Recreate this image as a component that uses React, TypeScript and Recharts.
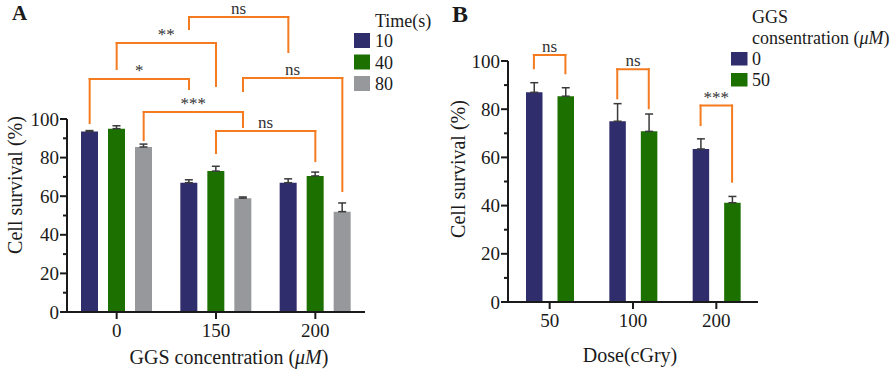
import React from 'react';
import { BarChart, Bar, XAxis, YAxis, ErrorBar, ReferenceLine } from 'recharts';

const FONT = '"Liberation Serif", "Times New Roman", serif';
const INK = '#1a1a1a';
const ORANGE = '#F47B20';
const NAVY = '#302D6D';
const GREEN = '#1B7000';
const GREY = '#97989C';

// panel A: survival vs GGS concentration, three exposure times
const concA = ['0', '150', '200'];
const surv10 = [93.5, 67, 67];
const surv40 = [95, 73, 70.5];
const surv80 = [85.5, 59, 52];
const err10 = [0.5, 1.5, 2];
const err40 = [1.5, 2.5, 2];
const err80 = [1.5, 0.6, 4.5];
const timeLabels = ['10', '40', '80'];

// panel B: survival vs dose, with / without GGS
const doseB = ['50', '100', '200'];
const survG0 = [87, 75, 63.5];
const survG50 = [85.4, 70.8, 41.2];
const errG0 = [4, 7.3, 4.2];
const errG50 = [3.5, 7.2, 2.6];
const ggsLabels = ['0', '50'];

const yTicks = [0, 10, 20, 30, 40, 50, 60, 70, 80, 90, 100];

// significance brackets: [group, series] anchors, bracket top and drop ends (in % units)
const bracketsA = [
  { from: [0, 0], to: [1, 0], top: 120.7, dropL: 97.9, dropR: 115.5, label: '*' },
  { from: [0, 1], to: [1, 1], top: 139.4, dropL: 125.9, dropR: 117.1, label: '**' },
  { from: [1, 0], to: [2, 0], top: 152.8, dropL: 146.6, dropR: 134.7, label: 'ns' },
  { from: [1, 2], to: [2, 2], top: 121.2, dropL: 114.5, dropR: 62.7, label: 'ns' },
  { from: [0, 2], to: [1, 2], top: 103.6, dropL: 89.1, dropR: 95.9, label: '***' },
  { from: [1, 1], to: [2, 1], top: 93.8, dropL: 82.4, dropR: 78.2, label: 'ns' },
];
const bracketsB = [
  { from: [0, 0], to: [0, 1], top: 102.5, dropL: 97, dropR: 94.9, label: 'ns' },
  { from: [1, 0], to: [1, 1], top: 96.6, dropL: 84.5, dropR: 80.4, label: 'ns' },
  { from: [2, 0], to: [2, 1], top: 81.5, dropL: 73.4, dropR: 49.9, label: '***' },
];

const dataA = concA.map((c, i) => ({
  conc: c,
  slot: i + 0.5,
  t10: surv10[i],
  t40: surv40[i],
  t80: surv80[i],
  e10: [0, err10[i]],
  e40: [0, err40[i]],
  e80: [0, err80[i]],
}));

const dataB = doseB.map((d, i) => ({
  dose: d,
  slot: i + 0.5,
  g0: survG0[i],
  g50: survG50[i],
  e0: [0, errG0[i]],
  e50: [0, errG50[i]],
}));

const YTick = (props: any) => {
  const { x, y, payload } = props;
  const v = payload.value;
  const major = v % 20 === 0;
  const len = major ? 7 : 4;
  return (
    <g>
      <line x1={x - len} x2={x} y1={y} y2={y} stroke={INK} strokeWidth={2} />
      {major && (
        <text x={x - len - 1} y={y} dy="0.35em" textAnchor="end" fill={INK} fontSize={19} fontFamily={FONT}>
          {v}
        </text>
      )}
    </g>
  );
};

// x position (in band units) of the centre of a bar
const barX = (group: number, series: number, nSeries: number, pitch: number) =>
  group + 0.5 + (series - (nSeries - 1) / 2) * pitch;

const renderBrackets = (list: typeof bracketsA, nSeries: number, pitch: number) =>
  list.flatMap((b, i) => {
    const xa = barX(b.from[0], b.from[1], nSeries, pitch);
    const xb = barX(b.to[0], b.to[1], nSeries, pitch);
    const common = {
      xAxisId: 'n',
      stroke: ORANGE,
      strokeWidth: 2,
      strokeLinecap: 'square' as const,
      ifOverflow: 'visible' as const,
    };
    return [
      <ReferenceLine
        key={`h${i}`}
        {...common}
        segment={[{ x: xa, y: b.top }, { x: xb, y: b.top }]}
        label={{ value: b.label, position: 'top', offset: 3, fill: '#333', fontSize: 17, fontFamily: FONT }}
      />,
      <ReferenceLine key={`l${i}`} {...common} segment={[{ x: xa, y: b.top }, { x: xa, y: b.dropL }]} />,
      <ReferenceLine key={`r${i}`} {...common} segment={[{ x: xb, y: b.top }, { x: xb, y: b.dropR }]} />,
    ];
  });

const axisStyle = { stroke: INK, strokeWidth: 2 };
const tickFont = { fill: INK, fontSize: 19, fontFamily: FONT };
const errStyle = { stroke: '#3a3a3a', strokeWidth: 1.5, width: 4 };

const Overlay = () => (
  <svg width={894} height={370} style={{ position: 'absolute', left: 0, top: 0, pointerEvents: 'none' }}>
    <g fontFamily={FONT} fill={INK}>
      <text x={12} y={20} fontSize={21} fontWeight="bold">A</text>
      <text x={452} y={22} fontSize={24} fontWeight="bold">B</text>

      <text x={15} y={185} fontSize={20} textAnchor="middle" dominantBaseline="central" transform="rotate(-90 15 185)">
        Cell survival (%)
      </text>
      <text x={229} y={357} fontSize={20} textAnchor="middle" dominantBaseline="central">
        GGS concentration (<tspan fontStyle="italic">μM</tspan>)
      </text>
      <text x={458} y={169} fontSize={20} textAnchor="middle" dominantBaseline="central" transform="rotate(-90 458 169)">
        Cell survival (%)
      </text>
      <text x={630} y={355} fontSize={20} textAnchor="middle" dominantBaseline="central">
        Dose(cGry)
      </text>

      {/* legend A */}
      <text x={375} y={21} fontSize={18} dominantBaseline="central">Time(s)</text>
      {timeLabels.map((t, i) => (
        <g key={t}>
          <rect x={354} y={33 + i * 21.5} width={16} height={15} fill={[NAVY, GREEN, GREY][i]} />
          <text x={375} y={41 + i * 21.5} fontSize={18} dominantBaseline="central">{t}</text>
        </g>
      ))}

      {/* legend B */}
      <text x={752} y={17} fontSize={18} dominantBaseline="central">GGS</text>
      <text x={752} y={38} fontSize={18} dominantBaseline="central">
        consentration (<tspan fontStyle="italic">μM</tspan>)
      </text>
      {ggsLabels.map((t, i) => (
        <g key={t}>
          <rect x={731} y={52 + i * 21} width={16.5} height={13.5} fill={[NAVY, GREEN][i]} />
          <text x={752} y={58.5 + i * 21} fontSize={18} dominantBaseline="central">{t}</text>
        </g>
      ))}
    </g>
  </svg>
);

export default function App() {
  return (
    <div style={{ position: 'absolute', left: 0, top: 0, width: 894, height: 370, background: '#fff' }}>
      <div style={{ position: 'absolute', left: 0, top: 0 }}>
        <BarChart
          width={440}
          height={370}
          data={dataA}
          margin={{ top: 119, right: 75, bottom: 28, left: 0 }}
          barSize={17}
          barGap={10}
        >
          <XAxis
            dataKey="conc"
            axisLine={axisStyle}
            tickLine={axisStyle}
            tickSize={7}
            tickMargin={5}
            tick={tickFont}
            height={30}
          />
          <XAxis xAxisId="n" dataKey="slot" type="number" domain={[0, 3]} allowDataOverflow hide />
          <YAxis
            domain={[0, 100]}
            ticks={yTicks}
            interval={0}
            tick={(p: any) => <YTick {...p} />}
            tickSize={0}
            tickMargin={0}
            tickLine={false}
            axisLine={axisStyle}
            width={67}
          />
          <Bar dataKey="t10" fill={NAVY} isAnimationActive={false}>
            <ErrorBar dataKey="e10" direction="y" {...errStyle} />
          </Bar>
          <Bar dataKey="t40" fill={GREEN} isAnimationActive={false}>
            <ErrorBar dataKey="e40" direction="y" {...errStyle} />
          </Bar>
          <Bar dataKey="t80" fill={GREY} isAnimationActive={false}>
            <ErrorBar dataKey="e80" direction="y" {...errStyle} />
          </Bar>
          {renderBrackets(bracketsA, 3, 27 / (298 / 3))}
        </BarChart>
      </div>
      <div style={{ position: 'absolute', left: 440, top: 0 }}>
        <BarChart
          width={454}
          height={370}
          data={dataB}
          margin={{ top: 61, right: 136, bottom: 38, left: 0 }}
          barSize={16.5}
          barGap={15}
        >
          <XAxis
            dataKey="dose"
            axisLine={axisStyle}
            tickLine={axisStyle}
            tickSize={7}
            tickMargin={5}
            tick={tickFont}
            height={30}
          />
          <XAxis xAxisId="n" dataKey="slot" type="number" domain={[0, 3]} allowDataOverflow hide />
          <YAxis
            domain={[0, 100]}
            ticks={yTicks}
            interval={0}
            tick={(p: any) => <YTick {...p} />}
            tickSize={0}
            tickMargin={0}
            tickLine={false}
            axisLine={axisStyle}
            width={68}
          />
          <Bar dataKey="g0" fill={NAVY} isAnimationActive={false}>
            <ErrorBar dataKey="e0" direction="y" {...errStyle} />
          </Bar>
          <Bar dataKey="g50" fill={GREEN} isAnimationActive={false}>
            <ErrorBar dataKey="e50" direction="y" {...errStyle} />
          </Bar>
          {renderBrackets(bracketsB, 2, 31.5 / (250 / 3))}
        </BarChart>
      </div>
      <Overlay />
    </div>
  );
}
